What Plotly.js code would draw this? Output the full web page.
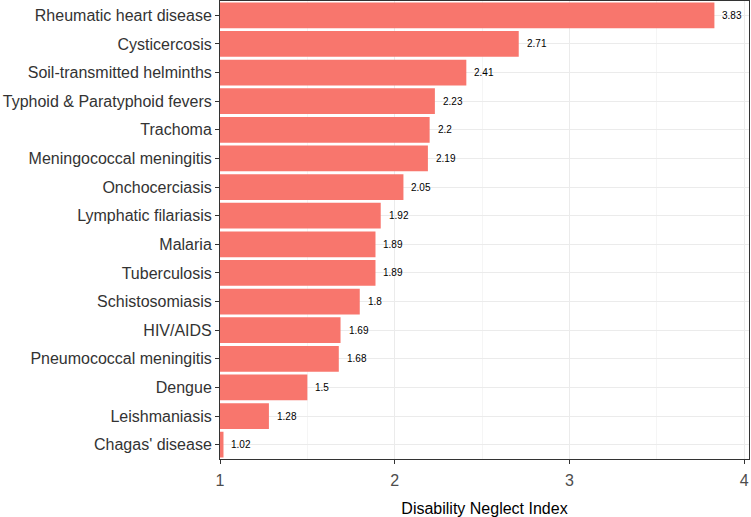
<!DOCTYPE html>
<html><head><meta charset="utf-8">
<script src="https://cdn.plot.ly/plotly-3.0.1.min.js"></script>
<style>html,body{margin:0;padding:0;background:#fff}</style>
</head><body><div id="chart" style="width:751px;height:517px"></div>
<script>
const categories = ["Rheumatic heart disease","Cysticercosis","Soil-transmitted helminths","Typhoid & Paratyphoid fevers","Trachoma","Meningococcal meningitis","Onchocerciasis","Lymphatic filariasis","Malaria","Tuberculosis","Schistosomiasis","HIV/AIDS","Pneumococcal meningitis","Dengue","Leishmaniasis","Chagas' disease"];
const values = [3.83,2.71,2.41,2.23,2.2,2.19,2.05,1.92,1.89,1.89,1.8,1.69,1.68,1.5,1.28,1.02];
const labels = ["3.83","2.71","2.41","2.23","2.2","2.19","2.05","1.92","1.89","1.89","1.8","1.69","1.68","1.5","1.28","1.02"];
const xTicks = [1,2,3,4];

const cats = categories.slice().reverse();
const vals = values.slice().reverse();
const labs = labels.slice().reverse();

const traces = [
  {type:'bar', orientation:'h', y:cats, x:vals, marker:{color:'#F8766D'}, width:0.9, hoverinfo:'none'}
];
const annotations = cats.map((c,i)=>({x:vals[i], y:c, xref:'x', yref:'y', text:labs[i], showarrow:false,
  xanchor:'left', yanchor:'middle', xshift:6, font:{family:'Liberation Sans, Arial, sans-serif', size:10, color:'#000'}}));
const layout = {
  width:751, height:517,
  margin:{l:220, r:2, t:1, b:58},
  showlegend:false,
  plot_bgcolor:'#fff', paper_bgcolor:'#fff',
  font:{family:'Liberation Sans, Arial, sans-serif', color:'#333'},
  annotations:annotations,
  xaxis:{range:[1,4.028], tickvals:xTicks, ticktext:xTicks.map(String), showgrid:true, gridcolor:'#EBEBEB', gridwidth:1,
    minor:{dtick:0.5, tick0:1, showgrid:true, gridcolor:'#F2F2F2', gridwidth:0.8},
    zeroline:false, showline:true, mirror:true, linecolor:'#333', linewidth:1,
    ticks:'outside', ticklen:4, tickcolor:'#333', tickfont:{size:16, color:'#4D4D4D'}, ticklabelstandoff:3,
    title:{text:'Disability Neglect Index', font:{size:16, color:'#000'}, standoff:15}},
  yaxis:{type:'category', categoryorder:'array', categoryarray:cats, range:[-0.5,15.5],
    showgrid:true, gridcolor:'#EBEBEB', zeroline:false, showline:true, mirror:true, linecolor:'#333', linewidth:1,
    ticks:'outside', ticklen:4, tickcolor:'#333', tickfont:{size:16, color:'#333'}}
};
Plotly.newPlot('chart', traces, layout, {displayModeBar:false, staticPlot:true});
</script></body></html>
